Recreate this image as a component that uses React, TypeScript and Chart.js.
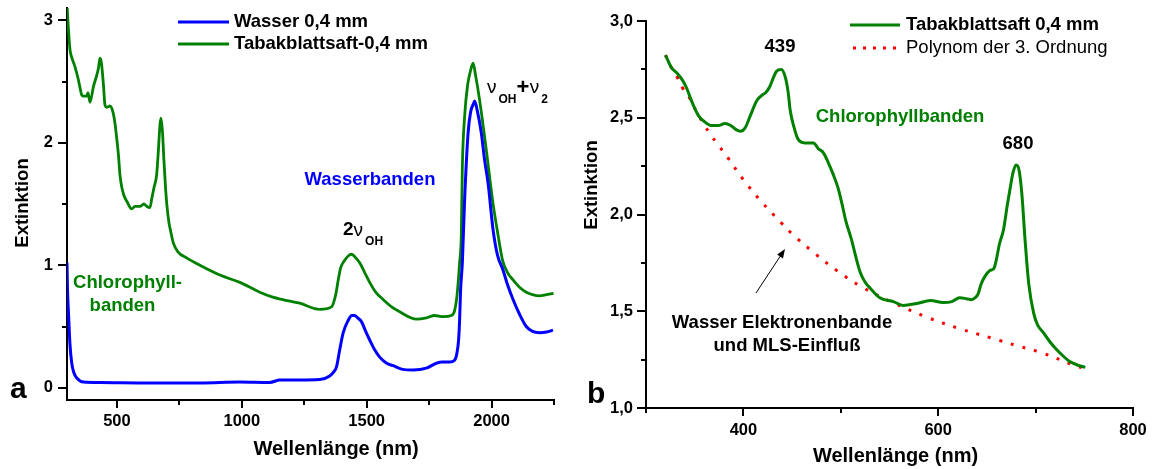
import React, { useEffect, useRef } from "react";
import { Chart, registerables } from "chart.js";

Chart.register(...registerables);

const GREEN = "#008000";
const BLUE = "#0000ff";
const RED = "#ff0000";
const FAMILY = '"Liberation Sans", Arial, Helvetica, sans-serif';

// ---- Panel a: full spectrum 300–2250 nm ----
const waterNm = [300, 302, 306, 312, 319, 328, 339, 366, 432, 632, 832, 992, 1112, 1152, 1232, 1312, 1352, 1368, 1379, 1392, 1406, 1426, 1440, 1452, 1464, 1479, 1496, 1512, 1532, 1552, 1580, 1606, 1644, 1686, 1739, 1779, 1804, 1832, 1852, 1862, 1868, 1872, 1876, 1883, 1892, 1906, 1916, 1928, 1932, 1944, 1959, 1972, 1986, 2006, 2024, 2046, 2064, 2086, 2112, 2139, 2164, 2192, 2220, 2246];
const waterExt = [1.02, 0.8, 0.61, 0.35, 0.2, 0.12, 0.08, 0.047, 0.043, 0.039, 0.039, 0.047, 0.043, 0.063, 0.063, 0.067, 0.096, 0.13, 0.17, 0.31, 0.45, 0.55, 0.59, 0.59, 0.57, 0.54, 0.46, 0.39, 0.31, 0.25, 0.2, 0.18, 0.15, 0.145, 0.16, 0.2, 0.21, 0.21, 0.225, 0.29, 0.39, 0.55, 0.8, 1.02, 1.53, 2.08, 2.25, 2.32, 2.34, 2.25, 2.08, 1.86, 1.67, 1.29, 1.08, 0.96, 0.84, 0.72, 0.6, 0.5, 0.46, 0.45, 0.455, 0.47];

const juiceNm = [300, 302, 306, 312, 320, 332, 346, 352, 359, 368, 379, 384, 392, 406, 419, 426, 432, 438, 446, 452, 460, 472, 484, 492, 500, 506, 512, 519, 528, 540, 559, 572, 592, 608, 620, 632, 640, 648, 659, 666, 672, 676, 682, 688, 694, 700, 708, 716, 726, 744, 779, 832, 912, 992, 1072, 1124, 1164, 1232, 1312, 1359, 1376, 1386, 1396, 1412, 1428, 1439, 1452, 1472, 1492, 1512, 1536, 1566, 1600, 1632, 1699, 1739, 1772, 1806, 1839, 1852, 1862, 1872, 1879, 1883, 1892, 1904, 1916, 1926, 1936, 1952, 1979, 2004, 2024, 2044, 2064, 2086, 2112, 2139, 2164, 2192, 2220, 2248];
const juiceExt = [3.15, 3.05, 2.92, 2.76, 2.69, 2.62, 2.51, 2.45, 2.39, 2.38, 2.38, 2.41, 2.33, 2.46, 2.55, 2.61, 2.69, 2.65, 2.47, 2.31, 2.29, 2.3, 2.25, 2.16, 2.02, 1.9, 1.74, 1.64, 1.57, 1.52, 1.46, 1.48, 1.48, 1.5, 1.48, 1.47, 1.55, 1.63, 1.74, 1.94, 2.14, 2.2, 2.1, 1.86, 1.65, 1.49, 1.35, 1.27, 1.18, 1.11, 1.06, 1.0, 0.92, 0.86, 0.78, 0.74, 0.72, 0.69, 0.64, 0.66, 0.76, 0.88, 0.98, 1.04, 1.08, 1.09, 1.07, 1.02, 0.94, 0.86, 0.78, 0.72, 0.66, 0.62, 0.56, 0.57, 0.59, 0.58, 0.59, 0.63, 0.76, 1.02, 1.26, 1.8, 2.21, 2.47, 2.59, 2.65, 2.55, 2.35, 1.94, 1.53, 1.27, 1.04, 0.94, 0.88, 0.82, 0.78, 0.76, 0.75, 0.76, 0.77];

// ---- Panel b: visible range 300–800 nm ----
const visNm = [320, 326, 332, 338, 342, 345, 349, 354, 360, 367, 374, 381, 387, 392, 397, 402, 407, 414, 420, 423, 427, 431, 434, 439, 443, 446, 448, 452, 456, 463, 468, 472, 477, 482, 487, 492, 497, 501, 505, 511, 515, 520, 525, 530, 540, 554, 564, 578, 592, 605, 614, 622, 629, 634, 638, 641, 644, 648, 653, 657, 659, 663, 667, 671, 674, 677, 680, 683, 686, 689, 691, 693, 698, 702, 708, 715, 722, 728, 735, 744, 751];
const visExt = [2.824, 2.76, 2.73, 2.69, 2.65, 2.61, 2.56, 2.51, 2.48, 2.46, 2.46, 2.47, 2.46, 2.44, 2.43, 2.45, 2.51, 2.59, 2.62, 2.63, 2.66, 2.71, 2.74, 2.75, 2.71, 2.63, 2.54, 2.45, 2.39, 2.37, 2.37, 2.37, 2.34, 2.32, 2.27, 2.21, 2.14, 2.06, 1.97, 1.87, 1.79, 1.7, 1.65, 1.62, 1.57, 1.55, 1.53, 1.54, 1.555, 1.545, 1.55, 1.57, 1.565, 1.56, 1.57, 1.59, 1.64, 1.68, 1.71, 1.72, 1.75, 1.85, 1.92, 2.05, 2.14, 2.22, 2.256, 2.23, 2.1, 1.88, 1.75, 1.64, 1.49, 1.43, 1.39, 1.34, 1.3, 1.27, 1.24, 1.22, 1.21];

const polyNm = [320, 326, 332, 338, 345, 352, 359, 366, 374, 383, 400, 417, 439, 450, 473, 496, 520, 554, 588, 622, 656, 682, 706, 740, 750];
const polyExt = [2.824, 2.76, 2.71, 2.65, 2.6, 2.53, 2.47, 2.415, 2.36, 2.3, 2.18, 2.075, 1.956, 1.9, 1.8, 1.71, 1.63, 1.544, 1.47, 1.41, 1.36, 1.32, 1.286, 1.22, 1.205];

// ---- Axis ticks ----
const aXTicks = [500, 1000, 1500, 2000];
const aXMinor = [750, 1250, 1750, 2250];
const aYTicks = [0, 1, 2, 3];
const aYMinor = [0.5, 1.5, 2.5];
const bXTicks = [400, 600, 800];
const bXMinor = [300, 500, 700];
const bYTicks = [1, 1.5, 2, 2.5, 3];
const bYMinor = [1.25, 1.75, 2.25, 2.75];

const bold = (s: number) => `bold ${s}px ${FAMILY}`;
const plain = (s: number) => `${s}px ${FAMILY}`;

const pts = (xs: number[], ys: number[]) => xs.map((x, i) => ({ x, y: ys[i] }));

type Part = { text: string; font: string; dx?: number; dy?: number };
type Label = {
  x: number;
  y: number;
  text?: string;
  parts?: Part[];
  font?: string;
  color?: string;
  align?: CanvasTextAlign;
  baseline?: CanvasTextBaseline;
  rotate?: boolean;
};
type Sample = { x1: number; x2: number; y: number; color: string; dash?: number[] };
type Decor = {
  xMajor: number[];
  xMinor: number[];
  yMajor: number[];
  yMinor: number[];
  labels: Label[];
  samples: Sample[];
  arrow?: [number, number, number, number];
};

// Draws minor/major tick marks, legend samples, annotations and axis titles.
function makeDecor(d: Decor) {
  return {
    id: "decor",
    afterDraw(chart: any) {
      const { ctx, chartArea } = chart;
      const xs = chart.scales.x;
      const ys = chart.scales.y;
      ctx.save();
      ctx.strokeStyle = "#000";
      ctx.lineWidth = 2;
      ctx.beginPath();
      const xt = (v: number, len: number) => {
        const p = Math.round(xs.getPixelForValue(v));
        ctx.moveTo(p, chartArea.bottom);
        ctx.lineTo(p, chartArea.bottom + len);
      };
      const yt = (v: number, len: number) => {
        const p = Math.round(ys.getPixelForValue(v));
        ctx.moveTo(chartArea.left, p);
        ctx.lineTo(chartArea.left - len, p);
      };
      d.xMajor.forEach((v) => xt(v, 8));
      d.xMinor.forEach((v) => xt(v, 5));
      d.yMajor.forEach((v) => yt(v, 9));
      d.yMinor.forEach((v) => yt(v, 5));
      ctx.stroke();

      for (const s of d.samples) {
        ctx.beginPath();
        ctx.strokeStyle = s.color;
        ctx.lineWidth = 3;
        ctx.setLineDash(s.dash || []);
        ctx.moveTo(s.x1, s.y);
        ctx.lineTo(s.x2, s.y);
        ctx.stroke();
      }
      ctx.setLineDash([]);

      if (d.arrow) {
        const [x1, y1, x2, y2] = d.arrow;
        const ang = Math.atan2(y2 - y1, x2 - x1);
        ctx.strokeStyle = "#000";
        ctx.fillStyle = "#000";
        ctx.lineWidth = 1;
        ctx.beginPath();
        ctx.moveTo(x1, y1);
        ctx.lineTo(x2 - 6 * Math.cos(ang), y2 - 6 * Math.sin(ang));
        ctx.stroke();
        ctx.beginPath();
        ctx.moveTo(x2, y2);
        ctx.lineTo(x2 - 9 * Math.cos(ang) + 3.5 * Math.sin(ang), y2 - 9 * Math.sin(ang) - 3.5 * Math.cos(ang));
        ctx.lineTo(x2 - 9 * Math.cos(ang) - 3.5 * Math.sin(ang), y2 - 9 * Math.sin(ang) + 3.5 * Math.cos(ang));
        ctx.closePath();
        ctx.fill();
      }

      for (const l of d.labels) {
        ctx.save();
        ctx.fillStyle = l.color || "#000";
        ctx.textAlign = l.align || "left";
        ctx.textBaseline = l.baseline || "middle";
        ctx.translate(l.x, l.y);
        if (l.rotate) ctx.rotate(-Math.PI / 2);
        if (l.parts) {
          ctx.textAlign = "left";
          let cx = 0;
          for (const p of l.parts) {
            ctx.font = p.font;
            cx += p.dx || 0;
            ctx.fillText(p.text, cx, p.dy || 0);
            cx += ctx.measureText(p.text).width;
          }
        } else {
          ctx.font = l.font || bold(18.5);
          ctx.fillText(l.text || "", 0, 0);
        }
        ctx.restore();
      }
      ctx.restore();
    },
  };
}

const tickFont = { family: FAMILY, size: 16.5, weight: "bold" as const };

function axis(
  min: number,
  max: number,
  ticks: number[],
  pad: number,
  size: (s: any) => void,
  fmt: (v: number) => string
) {
  return {
    type: "linear" as const,
    min,
    max,
    grid: { display: false, drawTicks: false },
    border: { display: true, color: "#000", width: 2 },
    ticks: {
      padding: pad,
      color: "#000",
      font: tickFont,
      autoSkip: false,
      maxRotation: 0,
      callback: (v: any) => fmt(Number(v)),
    },
    afterBuildTicks: (s: any) => {
      s.ticks = ticks.map((value) => ({ value }));
    },
    afterFit: (s: any) => {
      size(s);
      // the plot edges are set by layout.padding alone
      s.paddingTop = 0;
      s.paddingBottom = 0;
      s.paddingLeft = 0;
      s.paddingRight = 0;
    },
  };
}

function lineSet(data: { x: number; y: number }[], color: string, extra: any = {}) {
  return {
    data,
    borderColor: color,
    backgroundColor: color,
    borderWidth: 3,
    pointRadius: 0,
    fill: false,
    cubicInterpolationMode: "monotone" as const,
    ...extra,
  };
}

const baseOptions = {
  responsive: false,
  animation: false as const,
  devicePixelRatio: 1,
  events: [] as any[],
  parsing: false as const,
};

function configA(): any {
  return {
    type: "line",
    data: {
      datasets: [
        lineSet(pts(waterNm, waterExt), BLUE, { label: "Wasser 0,4 mm" }),
        lineSet(pts(juiceNm, juiceExt), GREEN, { label: "Tabakblattsaft-0,4 mm", borderWidth: 2.8 }),
      ],
    },
    options: {
      ...baseOptions,
      layout: { padding: { top: 8, right: 16, left: 0, bottom: 0 } },
      plugins: { legend: { display: false }, tooltip: { enabled: false } },
      scales: {
        x: axis(300, 2250, aXTicks, 12, (s) => (s.height = 69), (v) => String(v)),
        y: axis(-0.1, 3.1, aYTicks, 14, (s) => (s.width = 67), (v) => String(v)),
      },
    },
    plugins: [
      makeDecor({
        xMajor: aXTicks,
        xMinor: aXMinor,
        yMajor: aYTicks,
        yMinor: aYMinor,
        samples: [
          { x1: 178, x2: 229, y: 22, color: BLUE },
          { x1: 178, x2: 229, y: 44, color: GREEN },
        ],
        labels: [
          { x: 234, y: 22, text: "Wasser 0,4 mm" },
          { x: 234, y: 44, text: "Tabakblattsaft-0,4 mm" },
          { x: 370, y: 180, text: "Wasserbanden", color: BLUE, align: "center" },
          {
            x: 343,
            y: 235,
            baseline: "alphabetic",
            parts: [
              { text: "2", font: bold(19) },
              { text: "ν", font: plain(19), dy: 1 },
              { text: "OH", font: bold(12), dx: 2, dy: 10 },
            ],
          },
          {
            x: 487,
            y: 93,
            baseline: "alphabetic",
            parts: [
              { text: "ν", font: plain(19) },
              { text: "OH", font: bold(12), dx: 2, dy: 10 },
              { text: "+", font: bold(22), dy: 1 },
              { text: "ν", font: plain(19), dx: 0.5 },
              { text: "2", font: bold(12), dx: 2, dy: 10 },
            ],
          },
          { x: 127.5, y: 283, text: "Chlorophyll-", color: GREEN, align: "center" },
          { x: 122.5, y: 306, text: "banden", color: GREEN, align: "center" },
          { x: 10, y: 398, text: "a", font: bold(30), baseline: "alphabetic" },
          { x: 336, y: 455, text: "Wellenlänge (nm)", font: bold(20), align: "center", baseline: "alphabetic" },
          { x: 28, y: 203, text: "Extinktion", font: bold(18.5), align: "center", baseline: "alphabetic", rotate: true },
        ],
      }),
    ],
  };
}

const comma = (v: number) => v.toFixed(1).replace(".", ",");

function configB(): any {
  return {
    type: "line",
    data: {
      datasets: [
        lineSet(pts(visNm, visExt), GREEN, { label: "Tabakblattsaft 0,4 mm" }),
        lineSet(pts(polyNm, polyExt), RED, {
          label: "Polynom der 3. Ordnung",
          borderDash: [3, 9],
          cubicInterpolationMode: "default",
          tension: 0.4,
        }),
      ],
    },
    options: {
      ...baseOptions,
      layout: { padding: { top: 21, right: 21, left: 0, bottom: 0 } },
      plugins: { legend: { display: false }, tooltip: { enabled: false } },
      scales: {
        x: axis(300, 800, bXTicks, 13, (s) => (s.height = 61), (v) => String(v)),
        y: axis(1, 3, bYTicks, 13, (s) => (s.width = 76), comma),
      },
    },
    plugins: [
      makeDecor({
        xMajor: bXTicks,
        xMinor: bXMinor,
        yMajor: bYTicks,
        yMinor: bYMinor,
        samples: [
          { x1: 280, x2: 330, y: 25, color: GREEN },
          { x1: 283, x2: 330, y: 48, color: RED, dash: [3, 7] },
        ],
        arrow: [186, 293, 215, 249],
        labels: [
          { x: 336, y: 25, text: "Tabakblattsaft 0,4 mm" },
          { x: 336, y: 48, text: "Polynom der 3. Ordnung", font: plain(18.5) },
          { x: 210, y: 47, text: "439", align: "center" },
          { x: 330, y: 117, text: "Chlorophyllbanden", color: GREEN, align: "center" },
          { x: 448, y: 144, text: "680", align: "center" },
          { x: 212, y: 323, text: "Wasser Elektronenbande", align: "center" },
          { x: 217, y: 346, text: "und MLS-Einfluß", align: "center" },
          { x: 17, y: 403, text: "b", font: bold(30), baseline: "alphabetic" },
          { x: 325.5, y: 462, text: "Wellenlänge (nm)", font: bold(20), align: "center", baseline: "alphabetic" },
          { x: 27, y: 185, text: "Extinktion", font: bold(18.5), align: "center", baseline: "alphabetic", rotate: true },
        ],
      }),
    ],
  };
}

export default function App() {
  const refA = useRef<HTMLCanvasElement>(null);
  const refB = useRef<HTMLCanvasElement>(null);

  useEffect(() => {
    const a = new Chart(refA.current!, configA());
    const b = new Chart(refB.current!, configB());
    return () => {
      a.destroy();
      b.destroy();
    };
  }, []);

  return (
    <div style={{ position: "absolute", left: 0, top: 0, width: 1154, height: 469, background: "#fff" }}>
      <canvas ref={refA} width={570} height={469} style={{ position: "absolute", left: 0, top: 0 }} />
      <canvas ref={refB} width={584} height={469} style={{ position: "absolute", left: 570, top: 0 }} />
    </div>
  );
}
